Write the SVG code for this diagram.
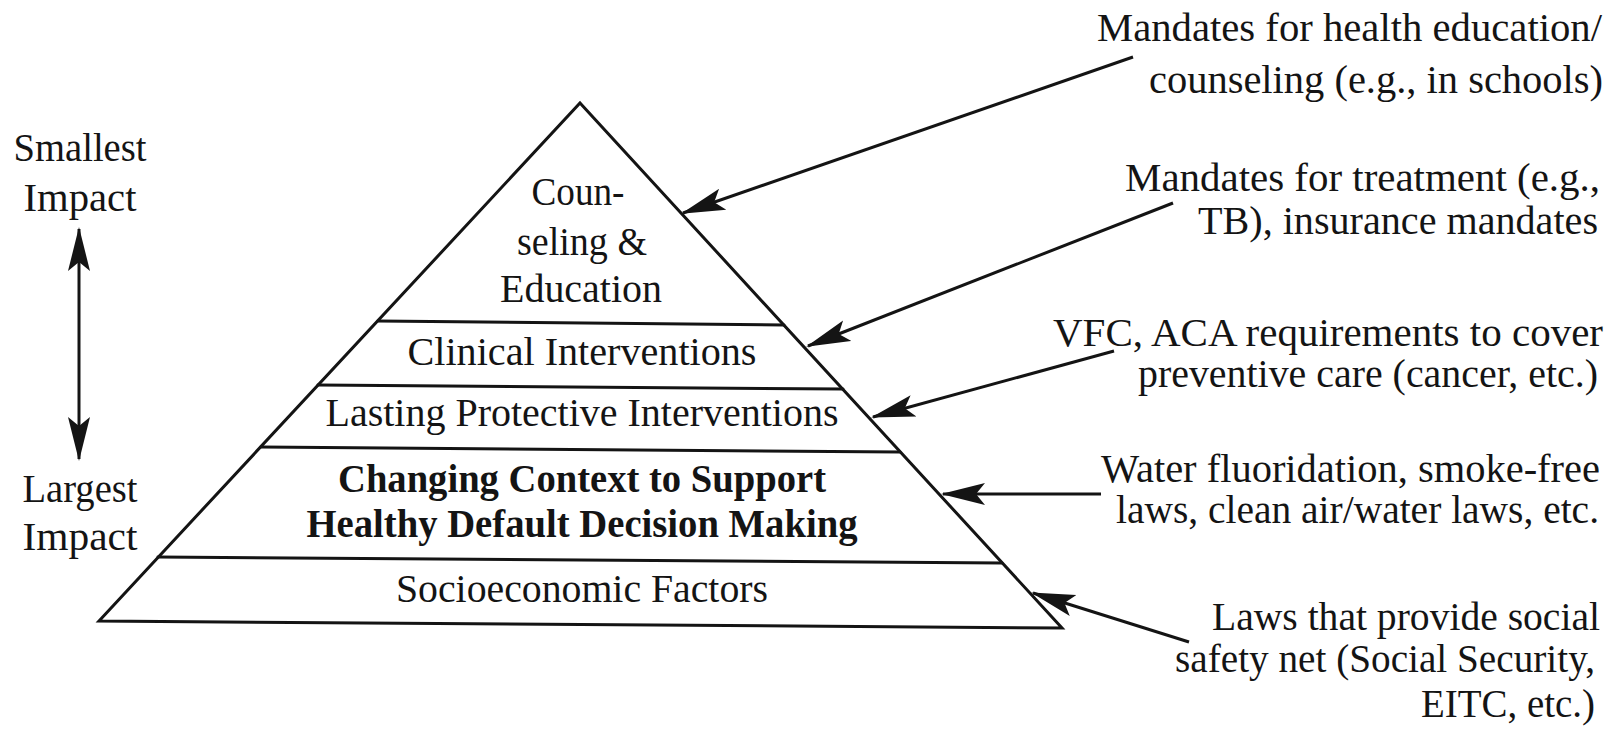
<svg xmlns="http://www.w3.org/2000/svg" width="1608" height="736" viewBox="0 0 1608 736">
<style>
  text { font-family: "Liberation Serif", "Times New Roman", serif; font-size: 41px; fill: #141414; }
  .c { text-anchor: middle; }
  .r { text-anchor: end; }
  .b { font-weight: bold; }
  .ln { stroke: #141414; stroke-width: 3; fill: none; stroke-linecap: round; }
  .ar { stroke: #141414; stroke-width: 3; fill: none; marker-end: url(#ah); }
</style>
<defs>
  <marker id="ah" markerUnits="userSpaceOnUse" viewBox="0 0 44 24" refX="42" refY="12" markerWidth="44" markerHeight="24" orient="auto-start-reverse">
    <path d="M0,1 L44,12 L0,23 L9,12 Z" fill="#141414"/>
  </marker>
</defs>
<rect width="1608" height="736" fill="#ffffff"/>

<g id="pyramid">
  <polygon class="ln" points="580,103 1062,628 99,621"/>
  <line class="ln" x1="378" y1="321" x2="784" y2="325"/>
  <line class="ln" x1="318" y1="385" x2="843" y2="389"/>
  <line class="ln" x1="261" y1="447" x2="900" y2="452"/>
  <line class="ln" x1="158" y1="557" x2="1002" y2="563"/>
</g>

<g id="level-counseling">
  <text class="c" x="578" y="205" textLength="93" lengthAdjust="spacingAndGlyphs">Coun-</text>
  <text class="c" x="582" y="255" textLength="130" lengthAdjust="spacingAndGlyphs">seling &amp;</text>
  <text class="c" x="581" y="302" textLength="162" lengthAdjust="spacingAndGlyphs">Education</text>
</g>
<g id="level-clinical">
  <text class="c" x="582" y="365" textLength="349" lengthAdjust="spacingAndGlyphs">Clinical Interventions</text>
</g>
<g id="level-lasting">
  <text class="c" x="582" y="426" textLength="513" lengthAdjust="spacingAndGlyphs">Lasting Protective Interventions</text>
</g>
<g id="level-context">
  <text class="c b" x="582" y="492" textLength="488" lengthAdjust="spacingAndGlyphs">Changing Context to Support</text>
  <text class="c b" x="582" y="537" textLength="551" lengthAdjust="spacingAndGlyphs">Healthy Default Decision Making</text>
</g>
<g id="level-socioeconomic">
  <text class="c" x="582" y="602" textLength="372" lengthAdjust="spacingAndGlyphs">Socioeconomic Factors</text>
</g>

<g id="label-smallest">
  <text class="c" x="80" y="161" textLength="133" lengthAdjust="spacingAndGlyphs">Smallest</text>
  <text class="c" x="80" y="211" textLength="113" lengthAdjust="spacingAndGlyphs">Impact</text>
</g>
<g id="label-largest">
  <text class="c" x="80" y="502" textLength="115" lengthAdjust="spacingAndGlyphs">Largest</text>
  <text class="c" x="80" y="550" textLength="115" lengthAdjust="spacingAndGlyphs">Impact</text>
</g>

<g id="note-health-education">
  <text class="r" x="1602" y="41" textLength="505" lengthAdjust="spacingAndGlyphs">Mandates for health education/</text>
  <text class="r" x="1603" y="93" textLength="454" lengthAdjust="spacingAndGlyphs">counseling (e.g., in schools)</text>
</g>
<g id="note-treatment">
  <text class="r" x="1600" y="191" textLength="475" lengthAdjust="spacingAndGlyphs">Mandates for treatment (e.g.,</text>
  <text class="r" x="1598" y="234" textLength="400" lengthAdjust="spacingAndGlyphs">TB), insurance mandates</text>
</g>
<g id="note-vfc">
  <text class="r" x="1603" y="346" textLength="550" lengthAdjust="spacingAndGlyphs">VFC, ACA requirements to cover</text>
  <text class="r" x="1598" y="387" textLength="460" lengthAdjust="spacingAndGlyphs">preventive care (cancer, etc.)</text>
</g>
<g id="note-water">
  <text class="r" x="1600" y="482" textLength="499" lengthAdjust="spacingAndGlyphs">Water fluoridation, smoke-free</text>
  <text class="r" x="1599" y="523" textLength="483" lengthAdjust="spacingAndGlyphs">laws, clean air/water laws, etc.</text>
</g>
<g id="note-safety-net">
  <text class="r" x="1600" y="630" textLength="388" lengthAdjust="spacingAndGlyphs">Laws that provide social</text>
  <text class="r" x="1595" y="672" textLength="420" lengthAdjust="spacingAndGlyphs">safety net (Social Security,</text>
  <text class="r" x="1595" y="717" textLength="174" lengthAdjust="spacingAndGlyphs">EITC, etc.)</text>
</g>

<g id="connectors">
  <line class="ar" x1="1133" y1="57" x2="683" y2="213"/>
  <line class="ar" x1="1173" y1="203" x2="808" y2="346"/>
  <line class="ar" x1="1114" y1="351" x2="873" y2="417"/>
  <line class="ar" x1="1101" y1="494" x2="943" y2="494"/>
  <line class="ar" x1="1189" y1="642" x2="1033" y2="593"/>
  <line class="ar" x1="79" y1="229" x2="79" y2="459" marker-start="url(#ah)"/>
</g>
</svg>
